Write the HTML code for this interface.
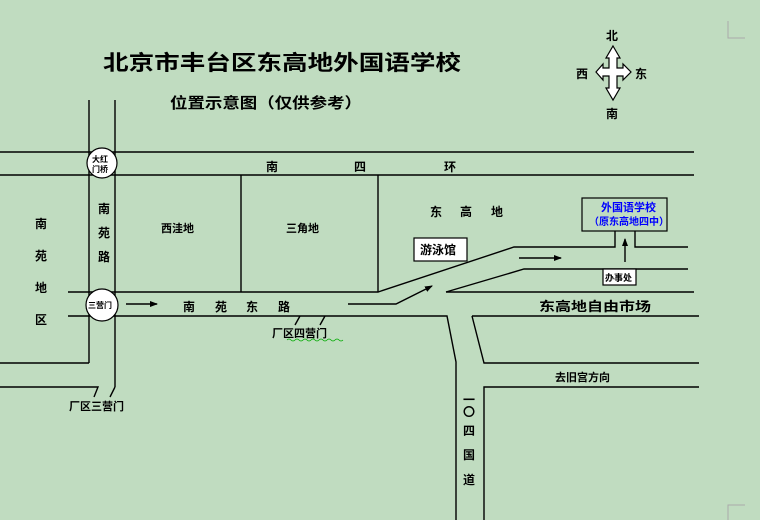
<!DOCTYPE html>
<html><head><meta charset="utf-8"><style>
html,body{margin:0;padding:0;background:#c0dcc0;}
svg{display:block;}
text{font-family:"Liberation Sans","Noto Sans CJK SC","WenQuanYi Zen Hei",sans-serif;font-weight:bold;fill:#000;}
</style></head><body>
<svg width="760" height="520" viewBox="0 0 760 520" xmlns="http://www.w3.org/2000/svg">
<rect width="760" height="520" fill="#c0dcc0"/>
<defs><marker id="ah" markerWidth="8" markerHeight="8" refX="7" refY="4" orient="auto" markerUnits="userSpaceOnUse"><path d="M0,1 L8,4 L0,7 Z" fill="#000"/></marker></defs>
<g stroke="#aaa" fill="none" stroke-width="1"><path d="M728,21 V38 H745"/><path d="M728,520 V505 H745"/></g>
<g stroke="#000" stroke-width="1.4" fill="none">
<line x1="0" y1="152" x2="694" y2="152"/>
<line x1="0" y1="175" x2="694" y2="175"/>
<line x1="89" y1="100" x2="89" y2="363"/>
<line x1="115" y1="100" x2="115" y2="387"/>
<line x1="115" y1="387" x2="110" y2="397"/>
<line x1="0" y1="363" x2="89" y2="363"/>
<polyline points="0,387 98,387 94,397"/>
<line x1="241" y1="175" x2="241" y2="292"/>
<line x1="378" y1="175" x2="378" y2="292"/>
<polyline points="68,292 378,292 514,247 615,247 615,231"/>
<polyline points="635,231 635,247 688,247"/>
<polyline points="446,292 524,269 688,269"/>
<line x1="446" y1="292" x2="694" y2="292"/>
<polyline points="68,316 447,316 456,362 456,520"/>
<polyline points="472,316 484,363 699,363"/>
<polyline points="699,387 484,387 484,520"/>
<line x1="300" y1="316" x2="295" y2="325"/>
<line x1="325" y1="316" x2="320" y2="325"/>
<line x1="472" y1="316" x2="699" y2="316"/>
<polyline points="348,304 396,304 432,286" marker-end="url(#ah)"/>
<line x1="126" y1="304" x2="157" y2="304" marker-end="url(#ah)"/>
<line x1="519" y1="258" x2="561" y2="258" marker-end="url(#ah)"/>
<line x1="625" y1="262" x2="625" y2="239" marker-end="url(#ah)"/>
</g>
<g stroke="#000" stroke-width="1.2" fill="#fff">
<circle cx="102" cy="163" r="15"/>
<circle cx="102" cy="305" r="16"/>
<rect x="414" y="238" width="53" height="23"/>
<rect x="603" y="269" width="33" height="16"/>
<rect x="582" y="198" width="85" height="33" fill="#c0dcc0"/>
<path d="M613,46 L620,58 L617,58 L617,68 L623,68 L623,64 L631,72 L623,80 L623,76 L617,76 L617,88 L620,88 L613,100 L606,88 L609,88 L609,76 L603,76 L603,80 L596,72 L603,64 L603,68 L609,68 L609,58 L606,58 Z"/>
</g>
<text x="103" y="70" font-size="21" textLength="358" lengthAdjust="spacingAndGlyphs">北京市丰台区东高地外国语学校</text>
<text x="170" y="108" font-size="15" textLength="192" lengthAdjust="spacingAndGlyphs">位置示意图（仅供参考）</text>
<g font-size="8"><text x="92" y="162">大红</text><text x="92" y="172">门桥</text><text x="88" y="308">三营门</text></g>
<g font-size="12">
<text x="266" y="171">南</text><text x="354" y="171">四</text><text x="444" y="171">环</text>
<text x="35" y="228">南</text><text x="35" y="260">苑</text><text x="35" y="292">地</text><text x="35" y="324">区</text>
<text x="98" y="213">南</text><text x="98" y="237">苑</text><text x="98" y="261">路</text>
<text x="161" y="232" font-size="11">西洼地</text>
<text x="286" y="232" font-size="11">三角地</text>
<text x="430" y="216">东</text><text x="460" y="216">高</text><text x="491" y="216">地</text>
<text x="183" y="311">南</text><text x="215" y="311">苑</text><text x="246" y="311">东</text><text x="278" y="311">路</text>
<text x="272" y="337" font-size="11">厂区四营门</text>
<text x="69" y="410" font-size="11">厂区三营门</text>
<text x="420" y="254" font-size="12">游泳馆</text>
<text x="605" y="281" font-size="9">办事处</text>
<text x="539" y="311" font-size="13" textLength="112" lengthAdjust="spacingAndGlyphs">东高地自由市场</text>
<text x="555" y="381" font-size="11">去旧宫方向</text>
<text x="463" y="404">一</text><text x="463" y="416">〇</text><text x="463" y="435">四</text><text x="463" y="459">国</text><text x="463" y="484">道</text>
<text x="601" y="211" font-size="11" style="fill:#0000ff">外国语学校</text>
<text x="589" y="225" font-size="10" style="fill:#0000ff">（原东高地四中）</text>
<text x="606" y="40">北</text><text x="576" y="78">西</text><text x="635" y="78">东</text><text x="606" y="118">南</text>
</g>
<path d="M287,340 q2,-2 4,0 t4,0 t4,0 t4,0 t4,0 t4,0 t4,0 t4,0 t4,0 t4,0 t4,0 t4,0 t4,0 t4,0" stroke="#0a0" stroke-width="0.8" fill="none"/>
</svg>
</body></html>
